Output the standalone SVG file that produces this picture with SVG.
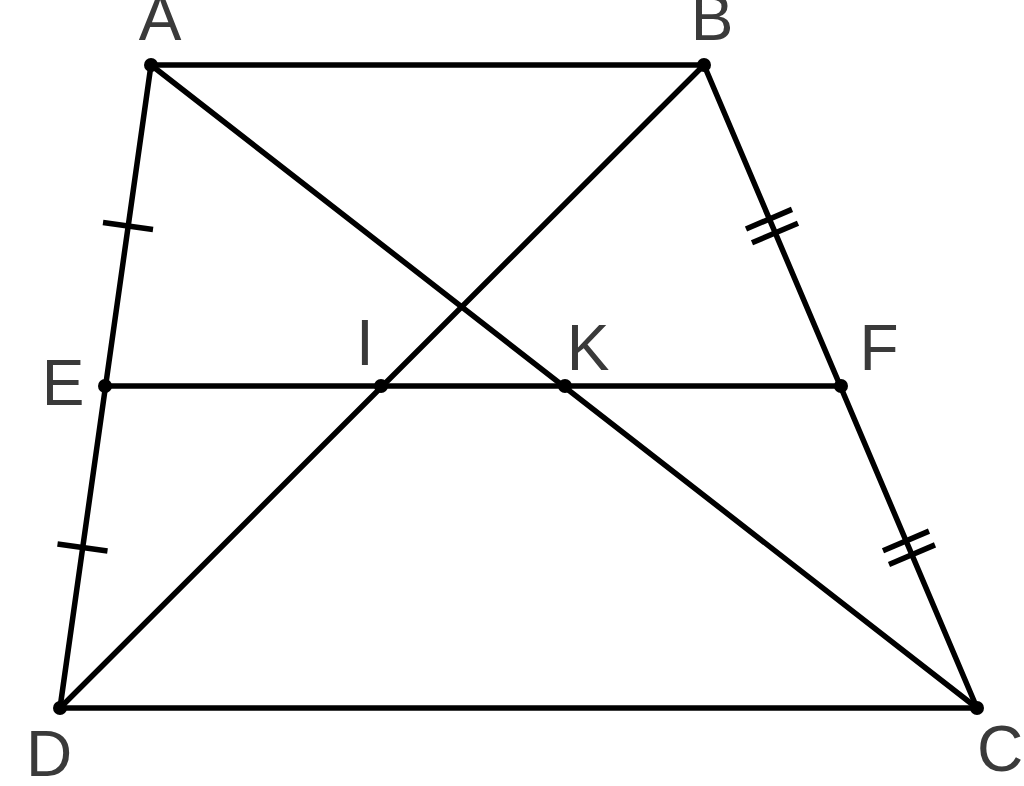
<svg xmlns="http://www.w3.org/2000/svg" width="1024" height="786" viewBox="0 0 1024 786">
<style>
.seg{stroke:#000;stroke-width:5.5;stroke-linecap:round;fill:none}
.tick{stroke:#000;stroke-width:5.5;stroke-linecap:butt;fill:none}
.pt{fill:#000}
.lbl{font-family:"Liberation Sans",Arial,sans-serif;font-size:64px;fill:#3a3a3a;text-anchor:middle}
</style>
<rect width="1024" height="786" fill="#fff"/>
<g id="connectors">
<line class="seg" x1="151" y1="65" x2="704" y2="65"/>
<line class="seg" x1="704" y1="65" x2="977" y2="708"/>
<line class="seg" x1="977" y1="708" x2="60" y2="708"/>
<line class="seg" x1="60" y1="708" x2="151" y2="65"/>
<line class="seg" x1="151" y1="65" x2="977" y2="708"/>
<line class="seg" x1="704" y1="65" x2="60" y2="708"/>
<line class="seg" x1="105" y1="386" x2="841" y2="386"/>
<line class="tick" x1="103" y1="222.5" x2="153" y2="229.5"/>
<line class="tick" x1="57.5" y1="544" x2="107.5" y2="551"/>
<line class="tick" x1="746" y1="229" x2="792" y2="209.4"/>
<line class="tick" x1="752" y1="242.8" x2="798" y2="223.2"/>
<line class="tick" x1="883" y1="550.7" x2="929" y2="531.1"/>
<line class="tick" x1="889" y1="564.5" x2="935" y2="544.9"/>
</g>
<g id="A"><circle class="pt" cx="151" cy="65" r="7"/><text class="lbl" x="160" y="40">A</text></g>
<g id="B"><circle class="pt" cx="704" cy="65" r="7"/><text class="lbl" x="712" y="40">B</text></g>
<g id="C"><circle class="pt" cx="977" cy="708" r="7"/><text class="lbl" x="1000" y="771">C</text></g>
<g id="D"><circle class="pt" cx="60" cy="708" r="7"/><text class="lbl" x="49" y="776">D</text></g>
<g id="E"><circle class="pt" cx="105" cy="386" r="7"/><text class="lbl" x="63" y="405">E</text></g>
<g id="F"><circle class="pt" cx="841" cy="386" r="7"/><text class="lbl" x="879" y="370">F</text></g>
<g id="I"><circle class="pt" cx="381" cy="386" r="7"/><text class="lbl" x="365" y="365">I</text></g>
<g id="K"><circle class="pt" cx="565" cy="386" r="7"/><text class="lbl" x="588" y="370">K</text></g>
</svg>
